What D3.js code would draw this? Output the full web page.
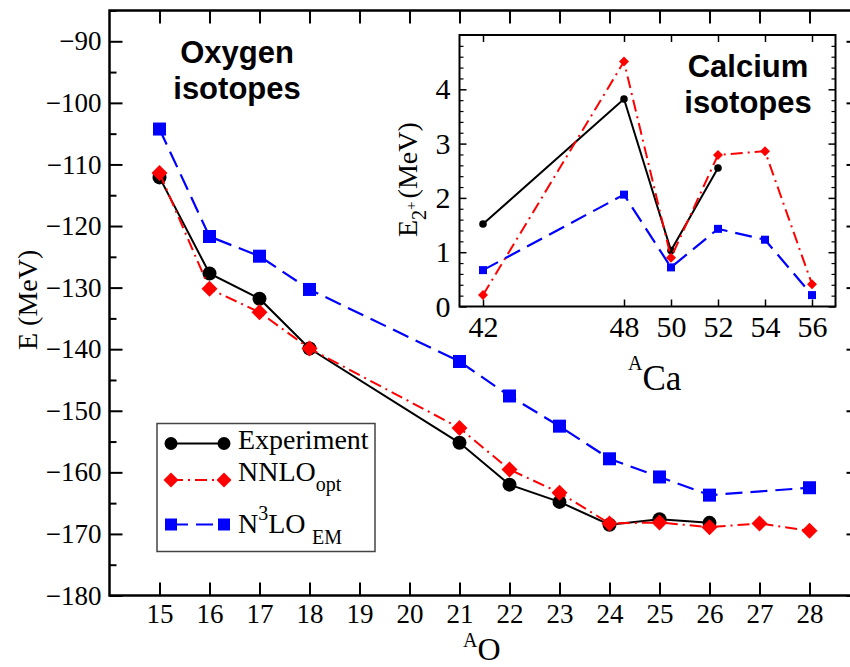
<!DOCTYPE html>
<html>
<head>
<meta charset="utf-8">
<script src="https://cdn.jsdelivr.net/npm/d3@7"></script>
<style>
  body { margin: 0; background: #fff; }
  svg { display: block; }
  .serif { font-family: "Liberation Serif", "Times New Roman", serif; }
  .sans { font-family: "Liberation Sans", Arial, sans-serif; font-weight: bold; }
</style>
</head>
<body>
<div id="chart"></div>
<script>
// Oxygen isotopes: ground-state energies (MeV)
const oxygenExpA = [15, 16, 17, 18, 21, 22, 23, 24, 25, 26];
const oxygenExp = [-112.1, -127.7, -131.8, -139.9, -155.2, -162.0, -164.8, -168.5, -167.6, -168.2];
const oxygenNnloA = [15, 16, 17, 18, 21, 22, 23, 24, 25, 26, 27, 28];
const oxygenNnlo = [-111.4, -130.2, -134.0, -139.9, -152.8, -159.55, -163.3, -168.3, -168.15, -168.9, -168.3, -169.5];
const oxygenN3loA = [15, 16, 17, 18, 21, 22, 23, 24, 25, 26, 28];
const oxygenN3lo = [-104.25, -121.7, -124.9, -130.3, -142.0, -147.6, -152.5, -157.8, -160.75, -163.7, -162.5];

// Calcium isotopes: first 2+ excitation energies (MeV)
const calciumExpA = [42, 48, 50, 52];
const calciumExp = [1.52, 3.82, 1.03, 2.55];
const calciumA = [42, 48, 50, 52, 54, 56];
const calciumNnlo = [0.21, 4.51, 0.90, 2.79, 2.86, 0.41];
const calciumN3lo = [0.67, 2.06, 0.72, 1.43, 1.23, 0.21];

// Tick values
const oxygenTicksX = [15, 16, 17, 18, 19, 20, 21, 22, 23, 24, 25, 26, 27, 28];
const oxygenTicksY = [-180, -170, -160, -150, -140, -130, -120, -110, -100, -90];
const oxygenMinorY = [-175, -165, -155, -145, -135, -125, -115, -105, -95, -85];
const calciumTicksX = [42, 48, 50, 52, 54, 56];
const calciumTicksY = [0, 1, 2, 3, 4];
const calciumMinorY = [0.2, 0.4, 0.6, 0.8, 1.2, 1.4, 1.6, 1.8, 2.2, 2.4, 2.6, 2.8, 3.2, 3.4, 3.6, 3.8, 4.2, 4.4, 4.6, 4.8];

const W = 850, H = 667;
const svg = d3.select('#chart').append('svg')
  .attr('width', W)
  .attr('height', H);

// Series styles
const styles = {
  exp: { color: '#000', dash: null, width: 2, marker: 'circle' },
  nnlo: { color: '#ff0000', dash: '12,5,2,5', width: 2, marker: 'diamond' },
  n3lo: { color: '#0000ff', dash: '17,8', width: 2.2, marker: 'square' }
};

function drawMarker(g, cx, cy, type, color, s) {
  if (type === 'circle') {
    g.append('circle').attr('cx', cx).attr('cy', cy).attr('r', s).attr('fill', color);
  } else if (type === 'square') {
    g.append('rect').attr('x', cx - s).attr('y', cy - s)
      .attr('width', 2 * s).attr('height', 2 * s).attr('fill', color);
  } else {
    g.append('path')
      .attr('d', `M${cx},${cy - s}L${cx + s},${cy}L${cx},${cy + s}L${cx - s},${cy}Z`)
      .attr('fill', color);
  }
}

function drawSeries(g, x, y, xs, ys, st, size) {
  const pts = xs.map((a, i) => [x(a), y(ys[i])]);
  g.append('path')
    .attr('d', d3.line()(pts))
    .attr('fill', 'none')
    .attr('stroke', st.color)
    .attr('stroke-width', st.width)
    .attr('stroke-dasharray', st.dash);
  pts.forEach(p => drawMarker(g, p[0], p[1], st.marker, st.color, size[st.marker]));
}

function styleAxis(sel, fontSize, width) {
  sel.select('.domain').remove();
  sel.selectAll('.tick line').attr('stroke', '#000').attr('stroke-width', width);
  sel.selectAll('.tick text')
    .attr('fill', '#000')
    .style('font-family', '"Liberation Serif", "Times New Roman", serif')
    .style('font-size', fontSize + 'px');
}

const fmt = d3.format('d');

// ---------- Main panel (oxygen) ----------
const x = d3.scaleLinear().domain([14, 29]).range([109.5, 859.5]);
const y = d3.scaleLinear().domain([-180, -85]).range([595.5, 10.5]);

const main = svg.append('g');

// Major and minor ticks, all pointing inward
main.append('g').attr('transform', `translate(0,${y(-180)})`)
  .call(d3.axisBottom(x).tickValues(oxygenTicksX).tickFormat(fmt).tickSizeInner(-13).tickSizeOuter(0).tickPadding(8))
  .call(s => styleAxis(s, 27, 2));
main.append('g').attr('transform', `translate(0,${y(-85)})`)
  .call(d3.axisTop(x).tickValues(oxygenTicksX).tickSizeInner(-13).tickSizeOuter(0).tickFormat(''))
  .call(s => styleAxis(s, 27, 2));
main.append('g').attr('transform', `translate(${x(14)},0)`)
  .call(d3.axisLeft(y).tickValues(oxygenTicksY).tickFormat(fmt).tickSizeInner(-13).tickSizeOuter(0).tickPadding(8))
  .call(s => styleAxis(s, 27, 2));
main.append('g').attr('transform', `translate(${x(14)},0)`)
  .call(d3.axisLeft(y).tickValues(oxygenMinorY).tickSizeInner(-7).tickSizeOuter(0).tickFormat(''))
  .call(s => styleAxis(s, 27, 2));
main.append('g').attr('transform', `translate(${x(29)},0)`)
  .call(d3.axisRight(y).tickValues(oxygenTicksY).tickSizeInner(-13).tickSizeOuter(0).tickFormat(''))
  .call(s => styleAxis(s, 27, 2));
main.append('g').attr('transform', `translate(${x(29)},0)`)
  .call(d3.axisRight(y).tickValues(oxygenMinorY).tickSizeInner(-7).tickSizeOuter(0).tickFormat(''))
  .call(s => styleAxis(s, 27, 2));

// Frame
main.append('rect')
  .attr('x', x(14)).attr('y', y(-85))
  .attr('width', x(29) - x(14)).attr('height', y(-180) - y(-85))
  .attr('fill', 'none').attr('stroke', '#000').attr('stroke-width', 2.5);

const mainSize = { circle: 7, diamond: 8, square: 6.5 };
drawSeries(main, x, y, oxygenExpA, oxygenExp, styles.exp, mainSize);
drawSeries(main, x, y, oxygenNnloA, oxygenNnlo, styles.nnlo, mainSize);
drawSeries(main, x, y, oxygenN3loA, oxygenN3lo, styles.n3lo, mainSize);

// Axis titles
main.append('text').attr('class', 'serif')
  .attr('transform', 'translate(37,350) rotate(-90)')
  .style('font-size', '28px')
  .text('E (MeV)');
const xTitle = main.append('text').attr('class', 'serif').attr('x', 463).attr('y', 647);
xTitle.append('tspan').style('font-size', '20px').text('A');
xTitle.append('tspan').attr('dy', 13).style('font-size', '32px').text('O');

main.append('text').attr('class', 'sans').attr('x', 237).attr('y', 63)
  .attr('text-anchor', 'middle').style('font-size', '31px').text('Oxygen');
main.append('text').attr('class', 'sans').attr('x', 237).attr('y', 99)
  .attr('text-anchor', 'middle').style('font-size', '31px').text('isotopes');

// Legend
const legend = main.append('g');
legend.append('rect')
  .attr('x', 157).attr('y', 423.5).attr('width', 218).attr('height', 128)
  .attr('fill', '#fff').attr('stroke', '#444').attr('stroke-width', 1.5);
const legendRows = [
  { st: styles.exp, y: 443.5 },
  { st: styles.nnlo, y: 480 },
  { st: styles.n3lo, y: 524.5 }
];
const legendSize = { circle: 6.5, diamond: 7.5, square: 6 };
legendRows.forEach(r => {
  legend.append('line')
    .attr('x1', 171).attr('x2', 224).attr('y1', r.y).attr('y2', r.y)
    .attr('stroke', r.st.color).attr('stroke-width', r.st.width)
    .attr('stroke-dasharray', r.st.dash);
  drawMarker(legend, 171, r.y, r.st.marker, r.st.color, legendSize[r.st.marker]);
  drawMarker(legend, 224, r.y, r.st.marker, r.st.color, legendSize[r.st.marker]);
});
legend.append('text').attr('class', 'serif').attr('x', 238).attr('y', 449)
  .style('font-size', '28px').text('Experiment');
const l2 = legend.append('text').attr('class', 'serif').attr('x', 238).attr('y', 481).style('font-size', '28px');
l2.append('tspan').text('NNLO');
l2.append('tspan').attr('dy', 10).style('font-size', '20px').text('opt');
const l3 = legend.append('text').attr('class', 'serif').attr('x', 238).attr('y', 533).style('font-size', '28px');
l3.append('tspan').text('N');
l3.append('tspan').attr('dy', -13).style('font-size', '20px').text('3');
l3.append('tspan').attr('dy', 13).text('LO');
l3.append('tspan').attr('x', 312).attr('dy', 11).style('font-size', '20px').text('EM');

// ---------- Inset (calcium) ----------
const ix = d3.scaleLinear().domain([41, 57]).range([459.5, 835.5]);
const iy = d3.scaleLinear().domain([0, 5]).range([306.5, 35]);

const inset = svg.append('g');
inset.append('rect')
  .attr('x', ix(41)).attr('y', iy(5))
  .attr('width', ix(57) - ix(41)).attr('height', iy(0) - iy(5))
  .attr('fill', '#fff');

inset.append('g').attr('transform', `translate(0,${iy(0)})`)
  .call(d3.axisBottom(ix).tickValues(calciumTicksX).tickFormat(fmt).tickSizeInner(-7).tickSizeOuter(0).tickPadding(9))
  .call(s => styleAxis(s, 30, 1.5));
inset.append('g').attr('transform', `translate(0,${iy(5)})`)
  .call(d3.axisTop(ix).tickValues(calciumTicksX).tickSizeInner(-7).tickSizeOuter(0).tickFormat(''))
  .call(s => styleAxis(s, 30, 1.5));
inset.append('g').attr('transform', `translate(${ix(41)},0)`)
  .call(d3.axisLeft(iy).tickValues(calciumTicksY).tickFormat(fmt).tickSizeInner(-7).tickSizeOuter(0).tickPadding(9))
  .call(s => styleAxis(s, 30, 1.5));
inset.append('g').attr('transform', `translate(${ix(41)},0)`)
  .call(d3.axisLeft(iy).tickValues(calciumMinorY).tickSizeInner(-4).tickSizeOuter(0).tickFormat(''))
  .call(s => styleAxis(s, 30, 1.2));
inset.append('g').attr('transform', `translate(${ix(57)},0)`)
  .call(d3.axisRight(iy).tickValues(calciumTicksY).tickSizeInner(-7).tickSizeOuter(0).tickFormat(''))
  .call(s => styleAxis(s, 30, 1.5));
inset.append('g').attr('transform', `translate(${ix(57)},0)`)
  .call(d3.axisRight(iy).tickValues(calciumMinorY).tickSizeInner(-4).tickSizeOuter(0).tickFormat(''))
  .call(s => styleAxis(s, 30, 1.2));

inset.append('rect')
  .attr('x', ix(41)).attr('y', iy(5))
  .attr('width', ix(57) - ix(41)).attr('height', iy(0) - iy(5))
  .attr('fill', 'none').attr('stroke', '#000').attr('stroke-width', 2);

const insetSize = { circle: 3.8, diamond: 5, square: 4 };
drawSeries(inset, ix, iy, calciumExpA, calciumExp, styles.exp, insetSize);
drawSeries(inset, ix, iy, calciumA, calciumNnlo, styles.nnlo, insetSize);
drawSeries(inset, ix, iy, calciumA, calciumN3lo, styles.n3lo, insetSize);

const iyTitle = inset.append('text').attr('class', 'serif')
  .attr('transform', 'translate(416.5,237) rotate(-90)')
  .style('font-size', '28px');
iyTitle.append('tspan').text('E');
iyTitle.append('tspan').attr('dy', 9).style('font-size', '20px').text('2');
iyTitle.append('tspan').attr('dy', -10).style('font-size', '15px').text('+');
iyTitle.append('tspan').attr('dy', 1).attr('dx', 3).text('(MeV)');

const ixTitle = inset.append('text').attr('class', 'serif').attr('x', 628).attr('y', 370);
ixTitle.append('tspan').style('font-size', '20px').text('A');
ixTitle.append('tspan').attr('dy', 20).style('font-size', '35px').text('Ca');

inset.append('text').attr('class', 'sans').attr('x', 748).attr('y', 77)
  .attr('text-anchor', 'middle').style('font-size', '31px').text('Calcium');
inset.append('text').attr('class', 'sans').attr('x', 748).attr('y', 113)
  .attr('text-anchor', 'middle').style('font-size', '31px').text('isotopes');
</script>
</body>
</html>
